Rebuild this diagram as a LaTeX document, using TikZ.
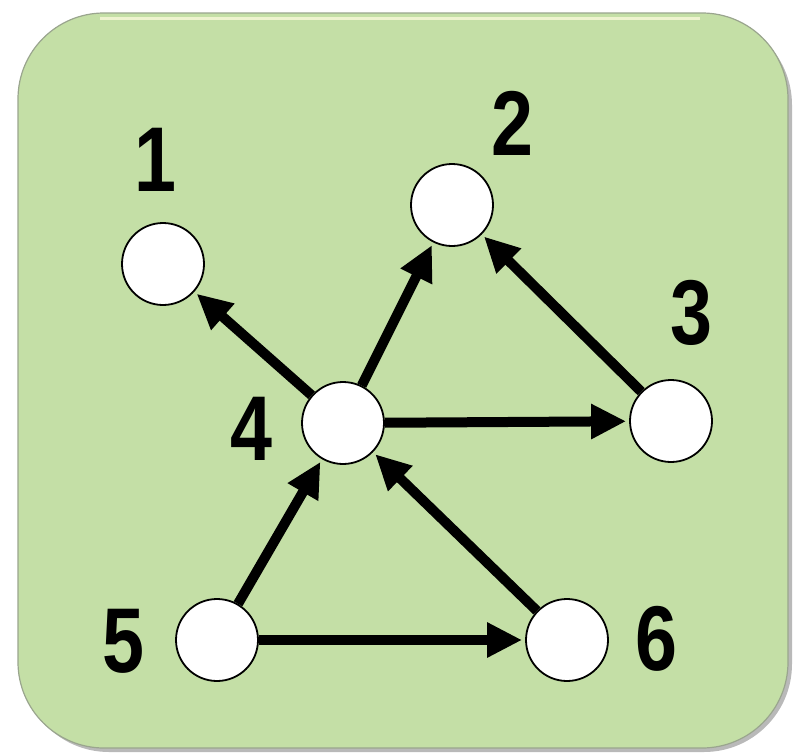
\documentclass[tikz,border=0pt]{standalone}
\usepackage{fontspec}
\setmainfont{Liberation Sans}
\usetikzlibrary{arrows.meta}
\definecolor{panel}{HTML}{C4DFA6}
\definecolor{panelrim}{HTML}{9AA58E}
\definecolor{panelhi}{HTML}{EEF3CF}
\begin{document}
\begin{tikzpicture}[x=1pt,y=-1pt,
  vert/.style={circle,draw=black,line width=1.8pt,fill=white,minimum size=82pt,inner sep=0pt},
  num/.style={font=\fontsize{92}{92}\selectfont\bfseries,xscale=0.82,inner sep=0pt},
  edge/.style={line width=10pt,-{Triangle[length=35pt,width=33pt]},shorten >=3pt}]
\useasboundingbox (0,0) rectangle (795,755);
% panel
\fill[gray!55,rounded corners=88pt] (21,17) rectangle (792,752);
\fill[panel,rounded corners=86pt] (18,13) rectangle (788,748);
\draw[panelhi,line width=3pt] (100,18) -- (700,18);
\draw[panelrim,line width=1.2pt,rounded corners=86pt] (18,13) rectangle (788,748);
% vertices
\node[vert] (n1) at (163,264) {};
\node[vert] (n2) at (452,205) {};
\node[vert] (n3) at (671,421) {};
\node[vert] (n4) at (343,423) {};
\node[vert] (n5) at (217,640) {};
\node[vert] (n6) at (567,640) {};
% labels
\node[num] (l1) at (155,160) {1};
\node[num] (l2) at (512,123) {2};
\node[num] (l3) at (691,313) {3};
\node[num] (l4) at (251,429) {4};
\node[num] (l5) at (123,641) {5};
\node[num] (l6) at (656,639) {6};
% edges
\draw[edge] (n4) -- (n1);
\draw[edge] (n4) -- (n2);
\draw[edge] (n3) -- (n2);
\draw[edge] (n4) -- (n3);
\draw[edge] (n5) -- (n4);
\draw[edge] (n6) -- (n4);
\draw[edge] (n5) -- (n6);
\end{tikzpicture}
\end{document}
